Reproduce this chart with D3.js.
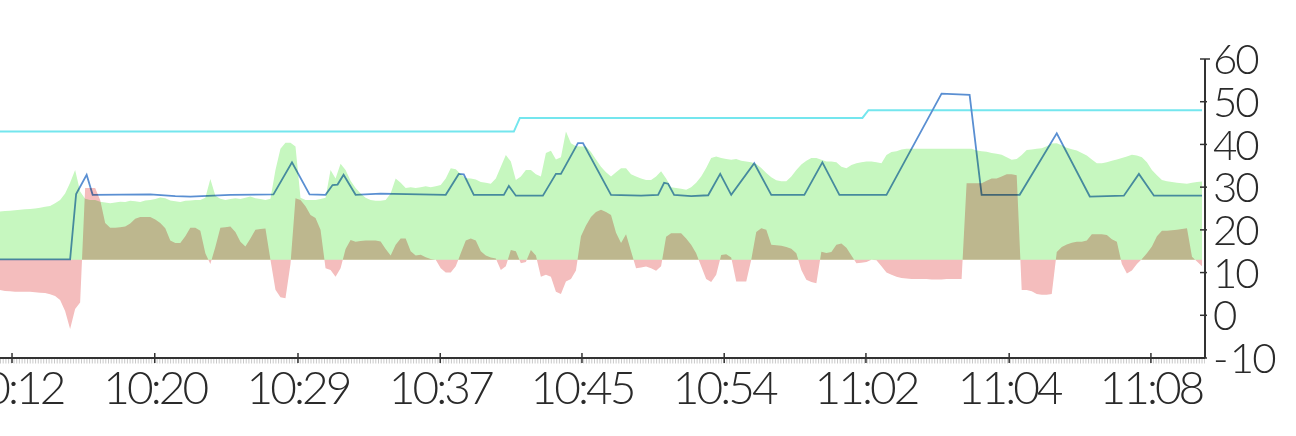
<!DOCTYPE html>
<html><head><meta charset="utf-8">
<script src="https://cdn.jsdelivr.net/npm/d3@7/dist/d3.min.js"></script>
<style>
html,body{margin:0;padding:0;background:#fff;}
svg{display:block;}
.lbl{font-family:Lato,"Open Sans",sans-serif;font-weight:300;fill:#2a2a2a;}
</style></head>
<body>
<svg id="c" width="1296" height="436"></svg>
<script>
// ---- data ----
const baseline = 13;
const xTickPos = [2.4, 30.9, 59.5, 87.9, 116.2, 144.6, 172.9, 201.5, 229.8];
const xTickLabels = ["10:12","10:20","10:29","10:37","10:45","10:54","11:02","11:04","11:08"];
const yTicks = [-10,0,10,20,30,40,50,60];

const greenSeries = [
24.3,24.4,24.5,24.6,24.7,24.8,24.9,25.0,25.2,25.4,
25.6,26.2,27.0,28.5,31.0,34.0,29.0,27.3,27.0,27.0,
26.6,26.4,26.2,26.4,26.6,26.5,26.8,26.7,26.5,26.9,
27.0,27.2,27.6,27.4,26.9,26.7,26.5,26.8,26.9,27.0,
27.0,27.5,31.9,28.0,27.3,27.0,27.2,27.4,27.2,27.5,
27.8,27.4,27.2,27.0,27.3,34.0,39.0,40.4,40.4,39.5,
27.5,27.0,27.0,27.0,27.2,27.5,34.0,32.0,35.5,34.0,
31.5,29.8,28.5,27.5,27.0,26.8,26.8,27.0,28.5,32.0,
31.0,29.8,30.0,29.8,30.0,30.2,30.0,30.2,30.5,32.0,
34.4,34.2,33.0,32.1,32.0,31.8,31.2,31.0,30.8,32.0,
34.8,37.5,36.0,31.7,32.5,34.0,34.0,33.0,32.5,38.0,
38.5,36.5,37.0,43.0,40.3,39.6,39.5,39.5,38.2,36.5,
34.8,33.5,32.5,33.5,34.4,34.4,33.0,32.5,32.0,31.7,
31.7,32.5,33.7,32.0,30.0,29.8,29.6,29.4,30.0,31.0,
32.5,34.5,36.8,37.2,36.8,36.6,36.4,36.6,36.2,36.0,
35.8,35.4,34.5,33.3,32.3,31.6,31.4,31.4,32.5,34.0,
35.3,36.2,36.8,36.8,36.4,36.0,36.0,35.8,34.8,34.4,
35.2,35.6,35.8,36.0,36.0,35.8,35.6,37.5,38.2,38.4,
38.8,39.0,39.0,39.0,39.0,39.0,39.0,39.0,39.0,39.0,
39.0,39.0,39.0,39.0,39.0,38.6,38.4,38.3,38.0,37.8,
37.6,37.0,36.4,36.6,37.5,38.7,38.8,39.0,39.1,39.6,
40.2,40.3,39.8,39.2,38.9,38.6,38.0,37.4,36.5,35.6,
35.6,35.8,36.2,36.5,36.8,37.2,37.6,37.4,37.0,35.8,
34.0,32.8,31.7,31.4,31.2,31.0,30.9,30.8,31.0,31.2,
31.3];

const redSeries = [
5.9,5.7,5.6,5.5,5.5,5.5,5.5,5.4,5.3,5.2,
4.9,4.5,3.6,1.0,-3.2,1.5,3.0,29.8,29.8,29.8,
27.0,21.6,20.5,20.5,20.6,20.8,21.5,22.6,23.0,23.0,
23.0,22.4,21.6,20.4,17.5,16.9,16.9,18.5,20.5,20.5,
19.8,14.5,12.0,16.0,20.5,20.6,20.8,19.5,17.2,16.1,
18.0,20.0,20.2,20.3,13.0,6.0,4.2,4.0,12.0,27.4,
27.0,25.5,23.5,22.8,20.0,11.0,10.6,9.0,11.0,15.5,
17.6,17.2,17.4,17.5,17.5,17.5,17.3,15.5,14.0,16.5,
18.0,18.0,15.0,14.0,14.2,13.6,13.2,13.0,11.0,10.0,
10.0,11.5,14.5,17.5,18.0,17.5,15.0,14.0,13.5,13.3,
10.6,11.5,15.3,15.0,12.2,12.5,15.3,14.0,9.0,9.5,
9.0,5.5,5.0,7.9,8.5,10.5,18.5,21.0,23.0,24.2,
24.7,24.2,23.5,19.3,16.9,19.0,15.0,11.0,11.2,11.4,
11.0,10.4,11.5,18.4,19.2,19.2,19.2,18.0,16.5,14.5,
11.5,8.5,7.8,9.5,14.1,14.3,13.5,7.9,7.9,7.9,
13.0,19.5,20.4,20.0,16.5,16.4,16.3,16.0,15.6,14.5,
10.6,8.3,7.8,7.5,14.9,14.6,14.8,16.5,16.8,15.8,
14.0,12.2,12.3,12.5,13.0,12.9,11.5,10.0,9.5,9.0,
8.7,8.6,8.5,8.5,8.5,8.5,8.4,8.4,8.4,8.5,
8.5,8.5,8.5,30.9,30.9,30.9,30.9,31.5,32.0,32.0,
32.5,33.0,33.0,32.8,5.9,5.9,5.6,5.0,4.8,4.8,
5.0,14.8,16.0,16.6,17.0,17.2,17.2,17.5,19.0,19.0,
19.0,18.8,17.8,17.2,12.0,9.8,10.5,12.0,13.2,14.5,
16.1,18.5,19.8,19.8,19.9,20.0,20.2,20.4,13.7,12.6,
11.5];

const blueX = [0,14,15.2,17.3,18.5,30,35,38,46,54.6,58.3,61.8,65,66.4,67.4,68.6,71,76,89,91.6,92.6,94.6,100.6,101.6,103,108.4,111,112,115.4,116.4,122,128,131.4,132.6,133.4,134.6,138,141.4,143.8,146,150.6,154,160.6,164.2,167.6,177,188,193.6,196,203.6,211,217.6,224.4,227.4,230.4,240];
const blueY = [13.1,13.1,28.4,32.9,28.2,28.3,27.9,27.8,28.2,28.3,35.8,28.3,28.2,30.5,30.6,32.9,28.2,28.5,28.2,33.1,33.0,28.2,28.2,30.3,28.0,28.0,33.1,33.1,40.3,40.3,28.2,28.0,28.2,31.0,30.8,28.2,27.9,28.1,33.1,28.2,35.6,28.2,28.2,35.8,28.2,28.2,51.9,51.6,28.2,28.2,42.6,27.8,28.0,33.1,28.0,28.0];

const cyanX = [0,102.6,103.8,172.2,173.4,240];
const cyanY = [43,43,46.2,46.2,48,48];

// ---- chart ----
const svg = d3.select("#c");
svg.append("rect").attr("width",1296).attr("height",436).attr("fill","#fff");

const x = d3.scaleLinear().domain([0, greenSeries.length-1]).range([0, 1202]);
const y = d3.scaleLinear().domain([-10, 60]).range([358, 59]);
const axisX = 1205;

const g = svg.append("g");
const line = d3.line().x(d=>x(d[0])).y(d=>y(d[1]));

g.append("path")
  .attr("d", line(cyanX.map((v,i)=>[v,cyanY[i]])))
  .attr("fill","none").attr("stroke","#74e6ee").attr("stroke-width",2);

g.append("path")
  .attr("d", line(blueX.map((v,i)=>[v,blueY[i]])))
  .attr("fill","none").attr("stroke","#5a8fd2").attr("stroke-width",1.8);

const area = d3.area().x((d,i)=>x(i)).y0(y(baseline)).y1(d=>y(d));

g.append("path").attr("d", area(greenSeries))
  .attr("fill","#c6f7bf").style("mix-blend-mode","multiply");
g.append("path").attr("d", area(redSeries))
  .attr("fill","#f4bdbd").style("mix-blend-mode","multiply");

// minor ticks (dotted)
svg.append("line").attr("x1",0).attr("x2",axisX).attr("y1",361).attr("y2",361)
  .attr("stroke","#c8c8c8").attr("stroke-width",5).attr("stroke-dasharray","1 1.7");

// x axis
svg.append("line").attr("x1",0).attr("x2",axisX).attr("y1",y(-10)).attr("y2",y(-10))
  .attr("stroke","#333").attr("stroke-width",2);
const xt = svg.append("g");
xTickPos.forEach((p,i)=>{
  const px = x(p);
  xt.append("line").attr("x1",px).attr("x2",px).attr("y1",353).attr("y2",363)
    .attr("stroke","#333").attr("stroke-width",1.5);
  xt.append("text").attr("class","lbl").attr("x",px).attr("y",404)
    .attr("text-anchor","middle").attr("font-size",46).attr("letter-spacing",-3)
    .text(xTickLabels[i]);
});

// y axis
svg.append("line").attr("x1",axisX).attr("x2",axisX).attr("y1",y(60)).attr("y2",y(-10))
  .attr("stroke","#333").attr("stroke-width",2);
yTicks.forEach(t=>{
  const py = y(t);
  svg.append("line").attr("x1",axisX-5).attr("x2",axisX+(t===60?5:2)).attr("y1",py).attr("y2",py)
    .attr("stroke","#333").attr("stroke-width",1.5);
  svg.append("text").attr("class","lbl").attr("x",1213).attr("y",py)
    .attr("dy","0.36em").attr("font-size",42).attr("letter-spacing",-2)
    .text(t<0 ? "-\u2009" + Math.abs(t) : String(t));
});
</script>
</body></html>
